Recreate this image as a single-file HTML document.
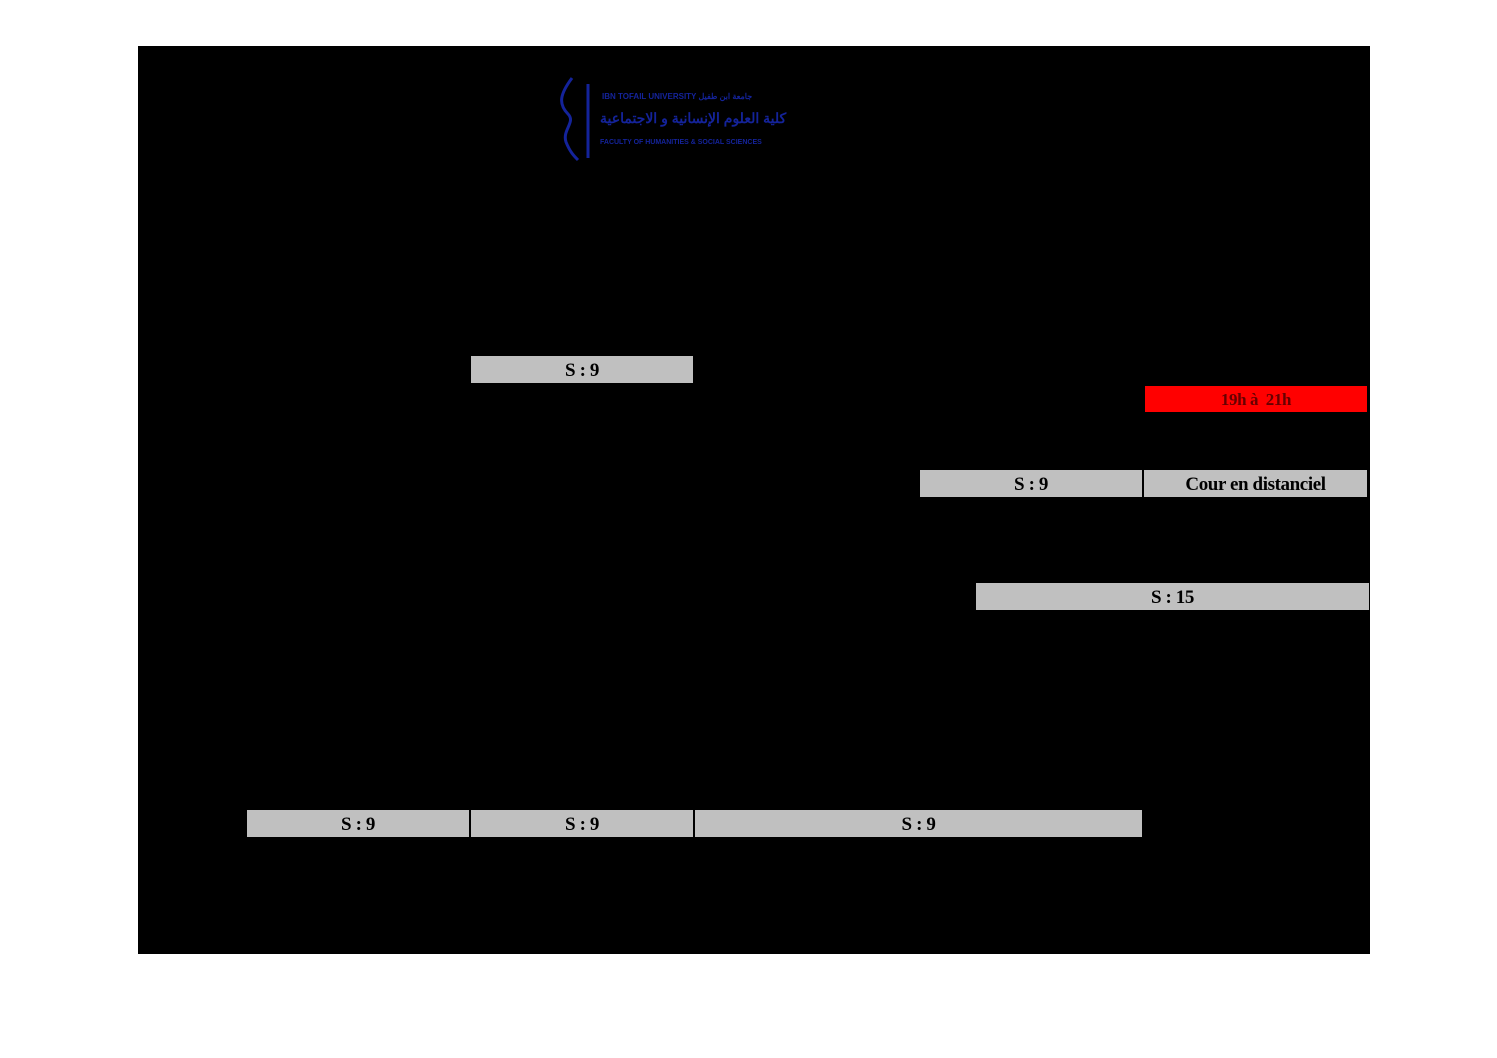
<!DOCTYPE html>
<html><head><style>
body{margin:0;width:1497px;height:1058px;background:#fff;position:relative;overflow:hidden;font-family:"Liberation Serif",serif}
#bg{position:absolute;left:138px;top:46px;width:1232px;height:908px;background:#000}
.b{position:absolute;background:#c0c0c0;color:#000;font-weight:bold;font-size:19px;text-align:center;line-height:29px;height:27px;letter-spacing:-0.4px;overflow:hidden}
.r{background:#f00;color:#600;font-size:17px}
.logo{position:absolute;font-family:"Liberation Sans",sans-serif;color:#14239a;font-weight:bold}
</style></head><body>
<div id="bg"></div>
<svg style="position:absolute;left:556px;top:74px" width="40" height="88"><path d="M16 4 C4 20 2 30 12 40 C20 48 6 56 10 68 C14 78 18 82 22 86" stroke="#14239a" stroke-width="3" fill="none"/><path d="M32 10 L32 84" stroke="#14239a" stroke-width="3"/></svg>
<div class="logo" style="left:602px;top:92px;font-size:8px">IBN TOFAIL UNIVERSITY جامعة ابن طفيل</div>
<div class="logo" style="left:600px;top:110px;font-size:14px">كلية العلوم الإنسانية و الاجتماعية</div>
<div class="logo" style="left:600px;top:139px;font-size:7px">FACULTY OF HUMANITIES &amp; SOCIAL SCIENCES</div>
<div class="b" style="left:471px;top:356px;width:222px">S : 9</div>
<div class="b r" style="left:1145px;top:386px;width:222px;height:26px;line-height:27px">19h à&nbsp; 21h</div>
<div class="b" style="left:920px;top:470px;width:222px">S : 9</div>
<div class="b" style="left:1144px;top:470px;width:223px">Cour en distanciel</div>
<div class="b" style="left:976px;top:583px;width:393px">S : 15</div>
<div class="b" style="left:247px;top:810px;width:222px">S : 9</div>
<div class="b" style="left:471px;top:810px;width:222px">S : 9</div>
<div class="b" style="left:695px;top:810px;width:447px">S : 9</div>
</body></html>
